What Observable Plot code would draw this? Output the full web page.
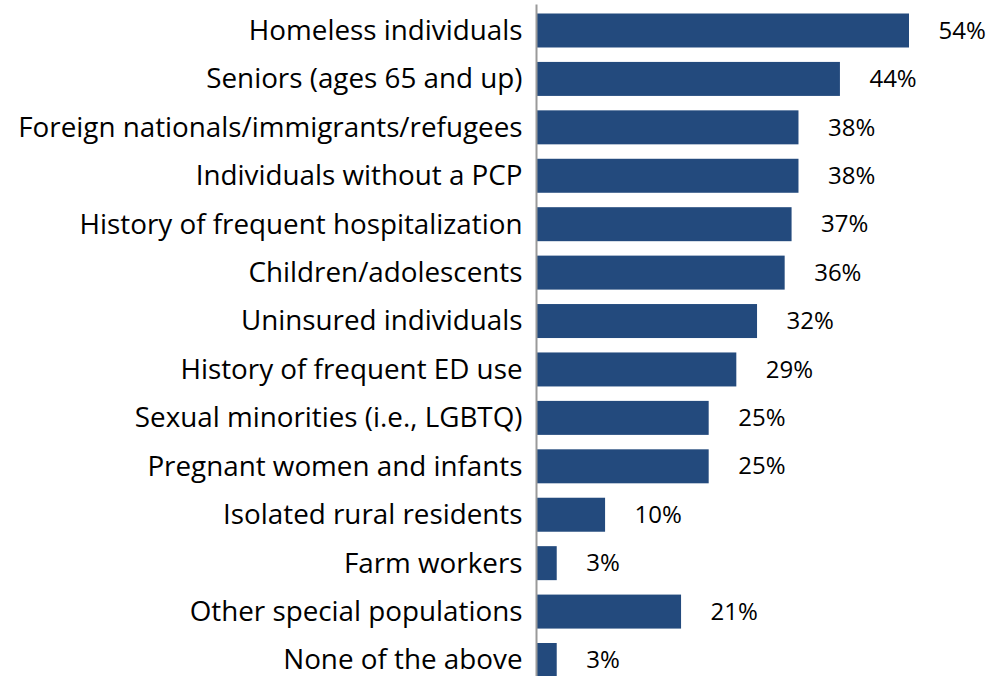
<!DOCTYPE html>
<html>
<head>
<meta charset="utf-8">
<script src="https://cdn.jsdelivr.net/npm/d3@7"></script>
<script src="https://cdn.jsdelivr.net/npm/@observablehq/plot@0.6"></script>
<style>
  html, body { margin: 0; padding: 0; background: #fff; overflow: hidden; }
  #chart svg { display: block; }
</style>
</head>
<body>
<div id="chart"></div>
<script>
const categories = [
  "Homeless individuals",
  "Seniors (ages 65 and up)",
  "Foreign nationals/immigrants/refugees",
  "Individuals without a PCP",
  "History of frequent hospitalization",
  "Children/adolescents",
  "Uninsured individuals",
  "History of frequent ED use",
  "Sexual minorities (i.e., LGBTQ)",
  "Pregnant women and infants",
  "Isolated rural residents",
  "Farm workers",
  "Other special populations",
  "None of the above"
];
const values = [54, 44, 38, 38, 37, 36, 32, 29, 25, 25, 10, 3, 21, 3];

const data = categories.map((c, i) => ({category: c, value: values[i]}));

const chart = Plot.plot({
  width: 1006,
  height: 677,
  marginLeft: 536,
  marginRight: 97,
  marginTop: 13.5,
  marginBottom: 0,
  style: {fontFamily: "'Open Sans', Lato, sans-serif", background: "#fff"},
  x: {domain: [0, 54], axis: null},
  y: {domain: categories, paddingInner: 0.298, paddingOuter: 0, round: false, axis: null},
  marks: [
    Plot.barX(data, {x: "value", y: "category", fill: "#234A7D"}),
    Plot.ruleX([0], {stroke: "#9a9a9a", strokeWidth: 2, insetTop: -9}),
    Plot.axisY({tickSize: 0, tickPadding: 14, fontSize: 27.8, fill: "#000", label: null}),
    Plot.text(data, {x: "value", y: "category", text: d => `${d.value}%`, textAnchor: "start", dx: 29, fontSize: 24, fill: "#000"})
  ]
});
document.getElementById("chart").appendChild(chart);
</script>
</body>
</html>
